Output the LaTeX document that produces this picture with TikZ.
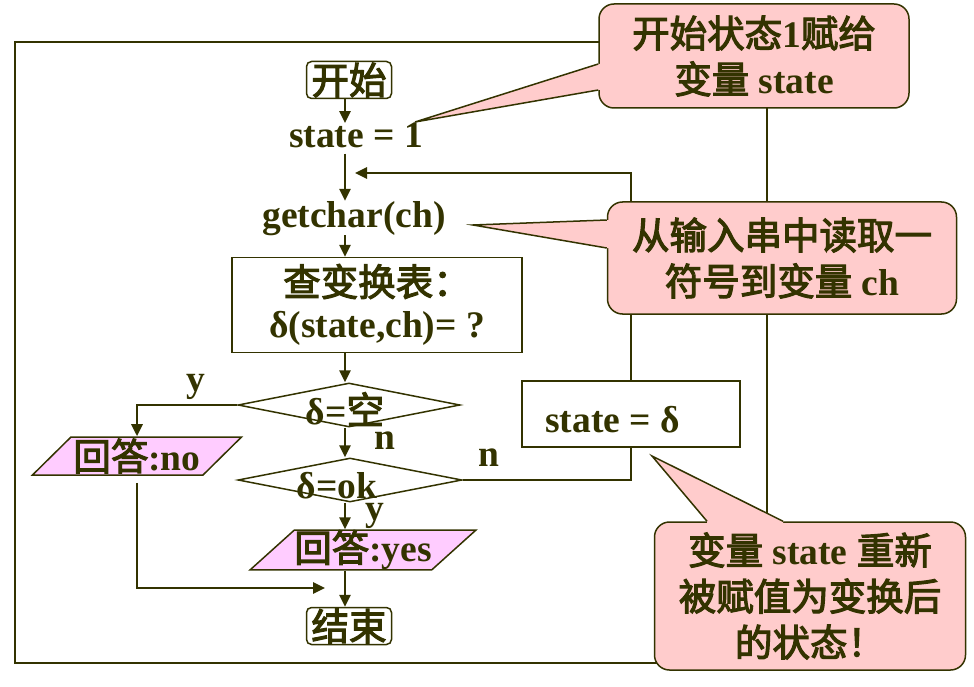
\documentclass[tikz,border=0pt]{standalone}
\usepackage{fontspec}
\setmainfont{Liberation Serif}
\newfontfamily\cjk{Noto Sans CJK SC}[BoldFont={Noto Sans CJK SC},BoldFeatures={FakeBold=3}]
\usetikzlibrary{arrows.meta,shapes.geometric}
\definecolor{ink}{HTML}{333300}
\definecolor{notepink}{HTML}{FFCCCC}
\definecolor{answerpink}{HTML}{FFCCFF}

\begin{document}
\begin{tikzpicture}[x=1pt,y=-1pt,color=ink,text=ink,font=\fontsize{37.5}{46}\selectfont\bfseries]
\tikzstyle{every node}=[inner sep=0pt]
\tikzstyle{flow}=[line width=2.6pt,-{Triangle[length=12pt,width=11pt]}]
\tikzstyle{branch}=[line width=2.6pt]
\tikzstyle{term}=[draw,line width=1.5pt,rounded corners=5pt,minimum width=85pt,minimum height=37pt]
\tikzstyle{proc}=[draw,line width=1.5pt]
\tikzstyle{test}=[draw,line width=1.5pt,diamond,minimum height=44pt]
\tikzstyle{answer}=[draw,line width=1.5pt,fill=answerpink,trapezium,trapezium left angle=42,
  trapezium right angle=138,trapezium stretches body,minimum height=38pt]
\tikzstyle{note}=[draw,line width=1.5pt,fill=notepink,rounded corners=15pt,align=center]
\tikzstyle{tail}=[line width=1.5pt,line join=miter]
\useasboundingbox (0,0) rectangle (974,687);
% frame
\draw[line width=1.5pt] (15,42) rectangle (767,663);
% flow chart
\coordinate (col) at (345,0);
\node (start) [term] at (349,80) {\cjk 开始};
\node (s1) [anchor=base] at (356,148) {state = 1};
\node (gc) [anchor=base] at (354,227) {getchar(ch)};
\node (tbl) [proc,minimum width=290pt,minimum height=95pt,align=center] at (377,305)
  {{\cjk 查变换表：}\\[-4pt]δ(state,ch)= ?};
\node (d1) [test,minimum width=222pt] at (349,405) {};
\node (d1t) at (345,409) {δ={\cjk 空}};
\node (d2) [test,minimum width=224pt] at (350,480) {};
\node (d2t) at (337,486) {δ=ok};
\node (no) [answer,minimum width=209pt] at (137,456) {{\cjk 回答}:no};
\node (yes) [answer,minimum width=207pt] at (363,550) {{\cjk 回答}:yes};
\node (stop) [term] at (349,626) {\cjk 结束};
\node (upd) [proc,minimum width=218pt,minimum height=66pt] at (631,414) {};
\node (updt) [anchor=base west] at (545,432) {state = δ};
\node (ly1) at (196,387) {y};
\node (ln1) at (385,441) {n};
\node (ln2) at (489,458) {n};
\node (ly2) at (375,516) {y};
\coordinate (join) at (325,588);
\coordinate (loopin) at (355,173);
\draw[flow] (start.south -| col) -- (s1.north -| col);
\draw[flow,shorten <=5pt] (s1.south -| col) -- (gc.north -| col);
\draw[flow] (gc.south -| col) -- (tbl.north -| col);
\draw[flow] (tbl.south -| col) -- (d1.north -| col);
\draw[flow] (d1.south -| col) -- (d2.north -| col);
\draw[flow] (d2.south -| col) -- (yes.north -| col);
\draw[flow] (yes.south -| col) -- (stop.north -| col);
\draw[flow] (d1.west) -| (no.north);
\draw[flow] ([yshift=-7pt]no.south) |- (join);
\draw[branch] (d2.east) -| (upd.south);
\draw[flow] (upd.north) |- (loopin);
% callouts
\node (c1) [note,minimum width=310pt,minimum height=104pt] at (754,56)
  {{\cjk 开始状态}1{\cjk 赋给}\\{\cjk 变量} state};
\coordinate (tip1) at (415,122);
\fill[notepink] ([yshift=-8pt,xshift=3pt]c1.west) -- ([yshift=-8pt]c1.west) -- (tip1)
  -- ([yshift=-34pt]c1.west) -- ([yshift=-34pt,xshift=3pt]c1.west) -- cycle;
\draw[tail] ([yshift=-8pt]c1.west) -- (tip1) -- ([yshift=-34pt]c1.west);
\node (c2) [note,minimum width=349pt,minimum height=112pt] at (782,258)
  {{\cjk 从输入串中读取一}\\{\cjk 符号到变量} ch};
\coordinate (tip2) at (473,225);
\fill[notepink] ([yshift=38pt,xshift=3pt]c2.west) -- ([yshift=38pt]c2.west) -- (tip2)
  -- ([yshift=10pt]c2.west) -- ([yshift=10pt,xshift=3pt]c2.west) -- cycle;
\draw[tail] ([yshift=38pt]c2.west) -- (tip2) -- ([yshift=10pt]c2.west);
\node (c3) [note,minimum width=311pt,minimum height=148pt] at (810,596)
  {{\cjk 变量} state {\cjk 重新}\\{\cjk 被赋值为变换后}\\{\cjk 的状态！}};
\coordinate (tip3) at (652,456);
\fill[notepink] ([xshift=-103pt,yshift=-3pt]c3.north) -- ([xshift=-103pt]c3.north) -- (tip3)
  -- ([xshift=-27pt]c3.north) -- ([xshift=-27pt,yshift=-3pt]c3.north) -- cycle;
\draw[tail] ([xshift=-103pt]c3.north) -- (tip3) -- ([xshift=-27pt]c3.north);
\end{tikzpicture}
\end{document}
